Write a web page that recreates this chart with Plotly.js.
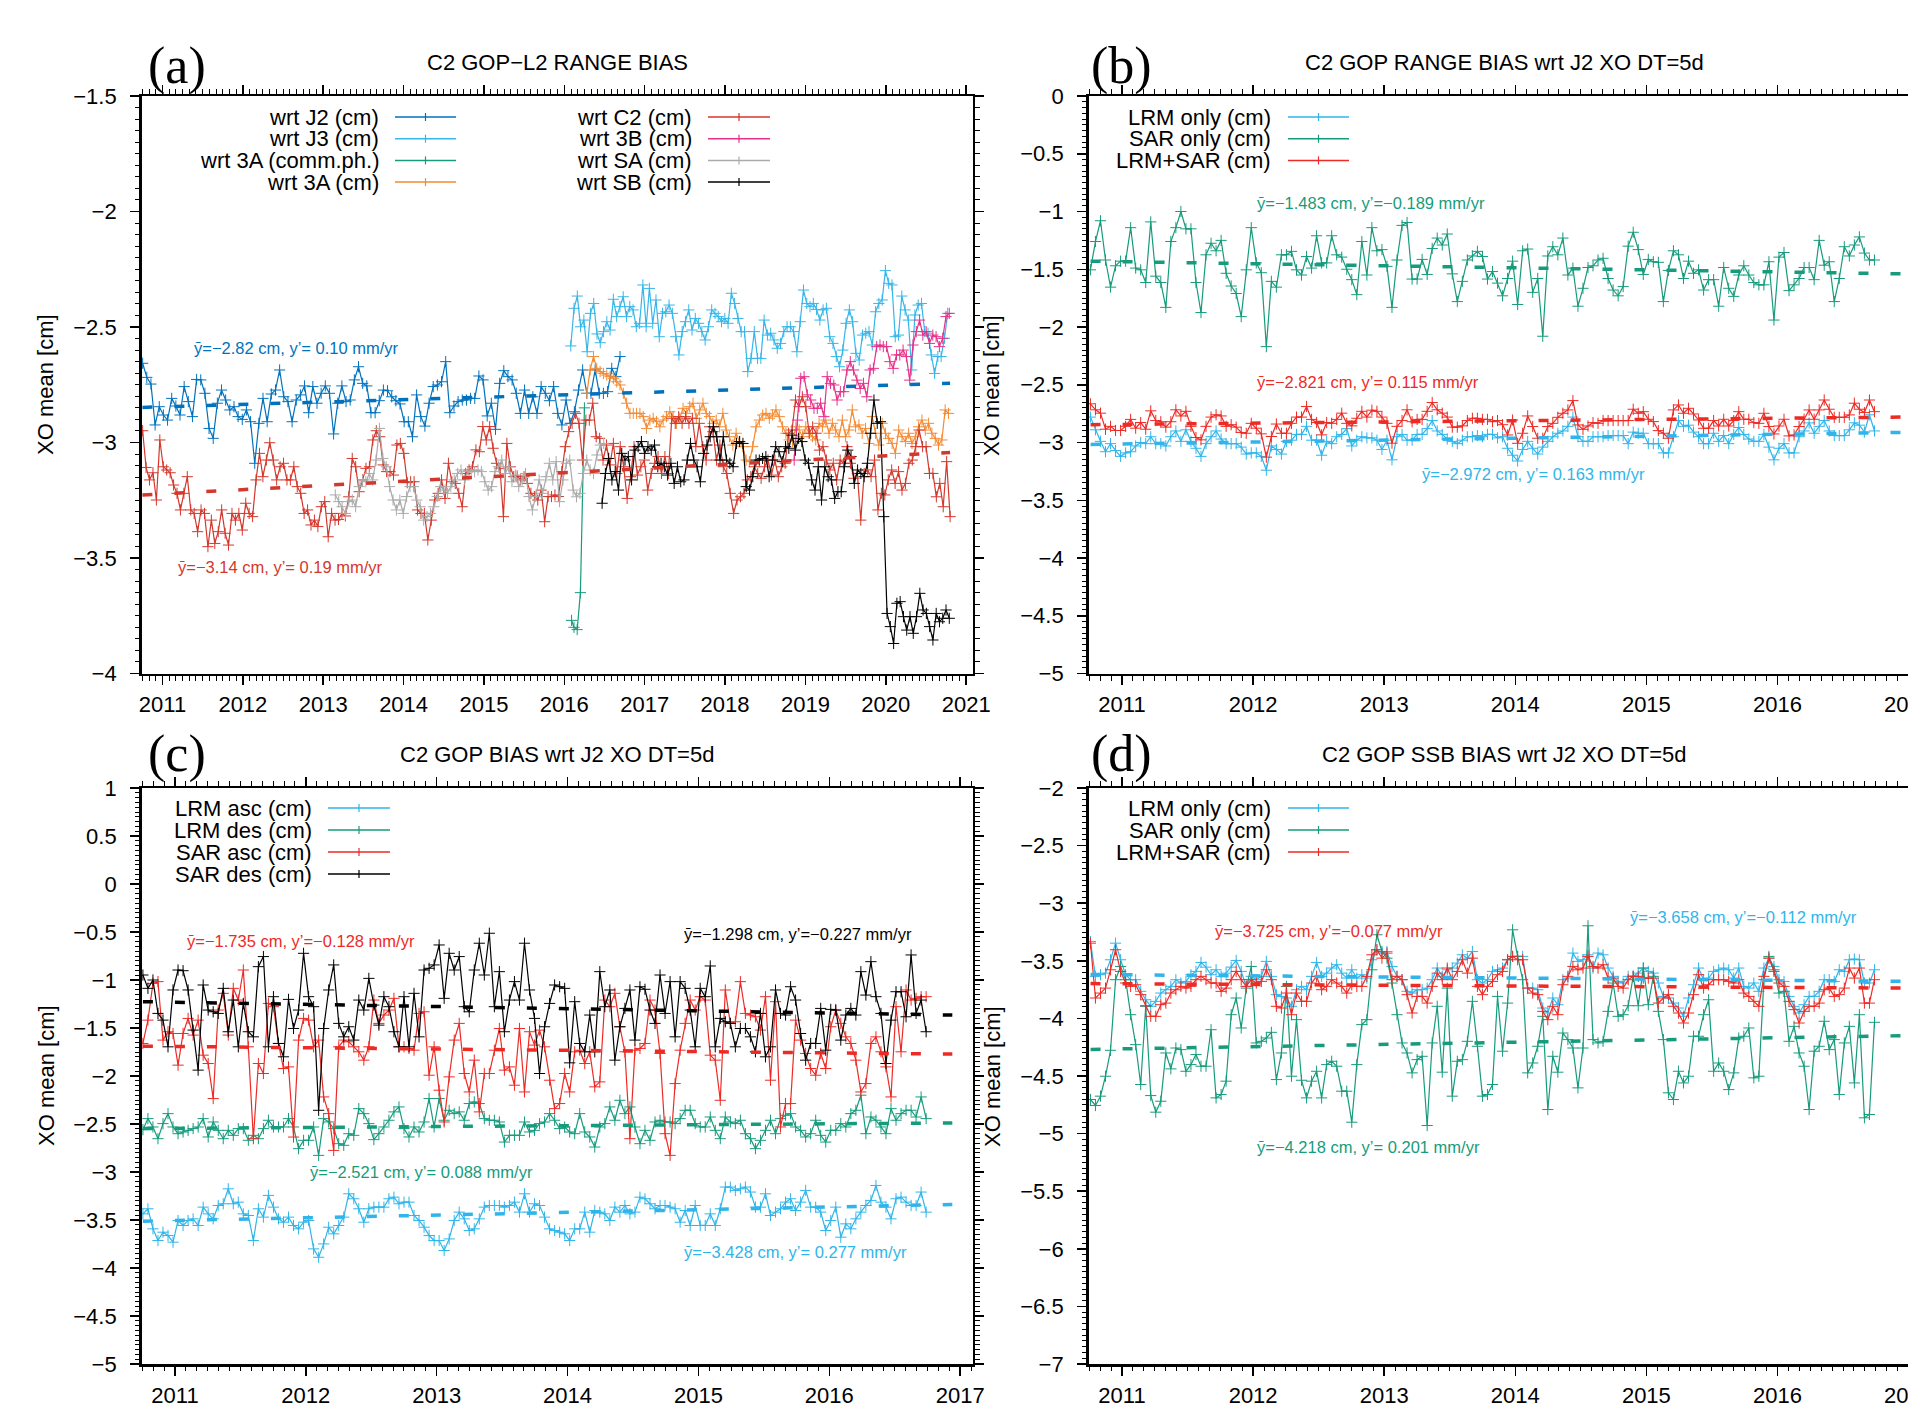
<!DOCTYPE html>
<html><head><meta charset="utf-8">
<script src="https://cdn.plot.ly/plotly-3.0.1.min.js"></script>
<style>html,body{margin:0;padding:0;overflow:hidden;background:#fff;}#plot{width:1940px;height:1412px;}</style>
</head><body><div id="plot"></div>
<script>
// ---------------- DATA ----------------
// Panel (a): C2 GOP-L2 range bias, decimal-year spans and values (cm)
const aJ2Span = [2010.753, 2016.693];
const aJ2 = [-2.657,-2.718,-2.747,-2.924,-2.845,-2.881,-2.903,-2.809,-2.842,-2.881,
-2.758,-2.823,-2.888,-2.727,-2.729,-2.787,-2.939,-2.982,-2.830,-2.773,
-2.816,-2.859,-2.845,-2.888,-2.900,-2.859,-2.910,-3.090,-2.917,-2.809,
-2.910,-2.790,-2.773,-2.686,-2.802,-2.823,-2.910,-2.816,-2.794,-2.755,
-2.871,-2.758,-2.830,-2.787,-2.755,-2.787,-2.963,-2.830,-2.755,-2.823,
-2.816,-2.729,-2.672,-2.744,-2.755,-2.871,-2.871,-2.819,-2.773,-2.776,
-2.802,-2.819,-2.833,-2.910,-2.910,-2.975,-2.794,-2.888,-2.929,-2.830,
-2.758,-2.751,-2.737,-2.650,-2.871,-2.842,-2.823,-2.816,-2.816,-2.809,
-2.809,-2.712,-2.729,-2.885,-2.830,-2.943,-2.744,-2.689,-2.715,-2.729,
-2.787,-2.874,-2.773,-2.874,-2.802,-2.874,-2.758,-2.787,-2.819,-2.758,
-2.874,-2.924,-2.816,-2.917,-2.867,-2.773,-2.686,-2.787,-2.787,-2.686,
-2.787,-2.787,-2.780,-2.679,-2.715,-2.628];
const aJ3Span = [2016.08, 2020.77];
const aJ3 = [-2.582,-2.419,-2.366,-2.499,-2.470,-2.607,-2.441,-2.398,-2.530,-2.568,
-2.520,-2.477,-2.513,-2.380,-2.455,-2.412,-2.369,-2.455,-2.412,-2.426,
-2.499,-2.484,-2.318,-2.499,-2.333,-2.484,-2.383,-2.542,-2.441,-2.434,
-2.405,-2.441,-2.542,-2.621,-2.520,-2.477,-2.426,-2.513,-2.463,-2.484,
-2.520,-2.556,-2.499,-2.426,-2.441,-2.455,-2.477,-2.463,-2.484,-2.354,
-2.398,-2.463,-2.520,-2.520,-2.693,-2.636,-2.520,-2.636,-2.636,-2.470,
-2.535,-2.527,-2.556,-2.592,-2.571,-2.520,-2.499,-2.499,-2.520,-2.607,
-2.477,-2.340,-2.398,-2.412,-2.398,-2.424,-2.470,-2.426,-2.419,-2.542,
-2.571,-2.628,-2.672,-2.600,-2.484,-2.426,-2.477,-2.614,-2.643,-2.535,
-2.527,-2.520,-2.578,-2.434,-2.398,-2.383,-2.256,-2.311,-2.318,-2.542,
-2.535,-2.366,-2.426,-2.470,-2.686,-2.448,-2.405,-2.398,-2.520,-2.527,
-2.621,-2.701,-2.628,-2.628,-2.549,-2.441];
const a3ACommTime = [2016.09, 2016.12, 2016.16, 2016.20, 2016.25];
const a3AComm = [-3.77, -3.80, -3.81, -3.65, -2.85];
const a3ASpan = [2016.28, 2020.78];
const a3A = [-2.787,-2.686,-2.628,-2.679,-2.693,-2.701,-2.708,-2.715,-2.722,-2.737,
-2.751,-2.787,-2.830,-2.874,-2.874,-2.874,-2.874,-2.888,-2.939,-2.903,
-2.895,-2.910,-2.932,-2.903,-2.888,-2.867,-2.888,-2.917,-2.895,-2.852,
-2.874,-2.845,-2.830,-2.895,-2.859,-2.830,-2.874,-2.888,-2.917,-2.903,
-2.932,-2.874,-2.946,-2.975,-3.011,-2.960,-2.996,-3.018,-3.076,-3.083,
-3.018,-2.932,-2.903,-2.881,-2.874,-2.895,-2.881,-2.859,-2.888,-2.932,
-2.960,-2.989,-2.996,-2.932,-2.946,-2.975,-2.932,-2.960,-2.975,-2.989,
-2.917,-2.932,-2.903,-2.960,-2.917,-2.946,-2.975,-2.903,-2.975,-2.946,
-2.859,-2.932,-2.924,-2.960,-2.939,-3.004,-2.888,-2.960,-3.011,-2.917,
-2.960,-2.982,-3.004,-3.047,-2.946,-2.975,-2.996,-2.960,-3.004,-2.975,
-2.932,-2.903,-2.946,-2.917,-2.960,-2.982,-3.011,-2.989,-2.859,-2.874];
const aC2Span = [2010.753, 2020.80];
const aC2 = [-2.949,-3.108,-3.162,-3.131,-3.249,-2.989,-3.105,-3.119,-3.131,-3.184,
-3.220,-3.292,-3.220,-3.148,-3.292,-3.307,-3.386,-3.292,-3.307,-3.451,
-3.336,-3.437,-3.386,-3.292,-3.393,-3.444,-3.307,-3.336,-3.307,-3.379,
-3.263,-3.307,-3.321,-3.162,-3.047,-3.148,-3.076,-3.001,-3.076,-3.162,
-3.105,-3.090,-3.162,-3.162,-3.105,-3.191,-3.220,-3.307,-3.292,-3.357,
-3.336,-3.364,-3.278,-3.256,-3.408,-3.307,-3.336,-3.333,-3.307,-3.318,
-3.235,-3.069,-3.105,-3.213,-3.162,-3.112,-3.105,-2.989,-2.949,-2.975,
-3.097,-3.126,-3.126,-3.141,-3.011,-3.004,-3.047,-3.174,-3.170,-3.170,
-3.292,-3.307,-3.307,-3.422,-3.336,-3.249,-3.220,-3.162,-3.242,-3.090,
-3.170,-3.177,-3.220,-3.278,-3.134,-3.119,-3.105,-3.032,-3.040,-2.931,
-2.989,-2.931,-3.025,-3.090,-3.112,-3.321,-3.004,-3.105,-3.148,-3.145,
-3.162,-3.148,-3.177,-3.220,-3.234,-3.249,-3.206,-3.343,-3.234,-3.234,
-3.227,-3.234,
-3.126,-3.018,-2.953,-2.917,-2.874,-2.917,-3.076,-2.903,-2.903,-2.830,
-2.975,-2.982,-3.076,-3.011,-3.097,-3.004,-3.134,-3.018,-3.105,-3.242,
-3.148,-3.018,-3.141,-3.105,-3.076,-3.206,-3.134,-3.090,-3.061,-3.134,
-3.061,-3.134,-2.895,-2.917,-2.888,-2.917,-2.888,-2.917,-2.895,-3.018,
-2.917,-3.018,-3.076,-2.932,-2.953,-3.076,-3.011,-3.105,-3.134,-3.220,
-3.307,-3.249,-3.235,-3.220,-3.162,-3.148,-3.105,-3.134,-3.155,-3.105,
-3.076,-3.141,-3.076,-3.148,-3.105,-3.090,-2.960,-2.946,-2.816,-2.845,
-2.802,-2.845,-2.960,-2.932,-2.960,-3.033,-3.018,-3.076,-3.119,-3.090,
-3.162,-3.076,-3.090,-3.018,-3.090,-3.155,-3.134,-3.336,-3.134,-3.119,
-3.148,-3.076,-3.292,-3.220,-3.227,-3.162,-3.119,-3.177,-3.126,-3.206,
-3.177,-3.090,-3.076,-3.018,-2.946,-3.018,-3.018,-3.134,-3.134,-3.235,
-3.177,-3.278,-3.083,-3.321];
const a3BSpan = [2018.86, 2020.79];
const a3B = [-3.076,-2.903,-2.722,-2.715,-2.794,-2.816,-2.852,-2.852,-2.830,-2.888,
-2.715,-2.744,-2.751,-2.816,-2.780,-2.780,-2.686,-2.650,-2.686,-2.730,
-2.766,-2.744,-2.802,-2.686,-2.679,-2.585,-2.578,-2.585,-2.585,-2.650,
-2.679,-2.621,-2.621,-2.600,-2.628,-2.730,-2.578,-2.520,-2.470,-2.535,
-2.520,-2.571,-2.535,-2.542,-2.585,-2.549,-2.455,-2.441];
const aSASpan = [2013.15, 2016.49];
const aSA = [-3.227,-3.256,-3.278,-3.307,-3.256,-3.249,-3.278,-3.191,-3.162,-3.170,
-3.134,-3.162,-3.076,-2.939,-3.069,-3.105,-3.191,-3.249,-3.292,-3.249,
-3.307,-3.234,-3.191,-3.191,-3.249,-3.278,-3.336,-3.321,-3.307,-3.278,
-3.234,-3.191,-3.206,-3.220,-3.191,-3.162,-3.134,-3.119,-3.162,-3.126,
-3.119,-3.126,-3.119,-3.126,-3.170,-3.206,-3.191,-3.126,-3.105,-3.076,
-3.134,-3.105,-3.170,-3.141,-3.191,-3.162,-3.134,-3.234,-3.292,-3.234,
-3.162,-3.220,-3.148,-3.090,-3.162,-3.083,-3.256,
-3.162,-3.090,-3.076,-3.206,-3.235,-3.220,-3.134,-3.076,-3.119,-3.134,-3.054,-3.011,-3.004];
const aSBSpan = [2016.47, 2020.79];
const aSB = [-3.263,-3.134,-3.069,-3.162,-3.126,-3.206,-3.047,-3.076,-3.061,-3.162,
-3.033,-3.018,-2.996,-3.047,-3.018,-3.033,-3.011,-3.105,-3.090,-3.105,
-3.141,-3.090,-3.177,-3.105,-3.170,-3.162,-3.076,-3.004,-3.076,-3.105,
-3.170,-3.047,-3.011,-2.975,-2.932,-2.975,-3.076,-2.975,-3.076,-3.090,
-3.105,-3.004,-2.996,-3.004,-3.191,-3.206,-3.148,-3.076,-3.076,-3.069,
-3.061,-3.148,-3.076,-3.018,-3.040,-3.083,-3.018,-3.025,-2.968,-3.033,
-2.982,-2.996,-3.076,-3.090,-3.162,-3.206,-3.105,-3.249,-3.105,-3.148,
-3.162,-3.242,-3.213,-3.213,-3.105,-3.033,-3.061,-3.177,-3.119,-3.134,
-3.148,-3.090,-2.960,-2.816,-2.917,-2.910,
-3.321,-3.740,-3.797,-3.870,-3.696,-3.689,-3.754,-3.812,-3.754,-3.826,
-3.754,-3.653,-3.725,-3.740,-3.797,-3.855,-3.740,-3.776,-3.761,-3.725,-3.761];
const aFitSpan = [2010.75, 2020.8];
const aFitJ2 = [-2.848, -2.744];
const aFitC2 = [-3.227, -3.043];

// Panel (b): range bias wrt J2 XO
const bSpan = [2010.759, 2016.74];
const bLRM = [-2.78,-2.89,-2.99,-3.08,-3.01,-3.07,-3.12,-3.09,-3.08,-3.03,
-3.00,-3.01,-2.95,-3.01,-3.01,-3.03,-2.95,-2.90,-2.99,-2.89,
-2.99,-3.05,-3.12,-3.01,-2.95,-2.90,-2.97,-3.01,-3.01,-3.01,
-3.04,-3.10,-3.09,-3.09,-3.12,-3.24,-3.03,-3.06,-3.10,-2.99,
-2.98,-2.93,-2.93,-2.86,-2.98,-2.98,-3.11,-2.99,-3.01,-2.95,
-2.93,-2.88,-3.03,-2.98,-2.95,-2.96,-2.96,-2.98,-3.06,-2.98,
-3.15,-2.95,-2.93,-2.98,-2.98,-2.93,-2.93,-2.88,-2.81,-2.90,
-2.93,-2.97,-2.99,-3.01,-2.98,-2.95,-2.95,-2.94,-2.95,-2.93,
-2.93,-2.96,-2.95,
-3.05,-3.11,-3.16,-3.06,-2.99,-3.05,-3.10,-3.04,-2.99,-2.95,
-2.92,-2.90,-2.86,-2.78,-2.95,-2.99,-2.99,-2.95,-2.95,-2.95,
-2.94,-2.94,-2.94,-2.94,-3.01,-2.91,-2.92,-2.92,-3.01,-3.01,
-3.01,-3.09,-3.09,-2.95,-2.81,-2.86,-2.85,-2.91,-2.95,-3.01,
-3.01,-2.92,-2.99,-2.94,-3.01,-2.93,-2.87,-2.93,-2.97,-2.99,
-2.99,-2.93,-3.04,-3.15,-3.05,-3.01,-3.09,-3.09,-2.95,-2.90,
-2.83,-2.92,-2.86,-2.81,-2.90,-2.94,-2.94,-2.94,-2.89,-2.83,
-2.85,-2.91,-2.76,-2.90];
const bSAR = [-1.505,-1.26,-1.08,-1.42,-1.655,-1.47,-1.43,-1.43,-1.14,-1.49,
-1.505,-1.615,-1.09,-1.56,-1.615,-1.83,-1.26,-1.14,-1.0,-1.15,
-1.15,-1.615,-1.875,-1.375,-1.275,-1.34,-1.25,-1.535,-1.645,-1.71,
-1.91,-1.505,-1.14,-1.445,-1.53,-2.17,-1.605,-1.655,-1.375,-1.375,
-1.345,-1.505,-1.55,-1.39,-1.49,-1.21,-1.445,-1.445,-1.21,-1.375,
-1.395,-1.50,-1.59,-1.72,-1.26,-1.55,-1.14,-1.34,-1.33,-1.475,
-1.83,-1.42,-1.12,-1.095,-1.585,-1.585,-1.415,-1.545,-1.32,-1.23,
-1.29,-1.195,-1.54,-1.78,-1.605,-1.42,-1.385,-1.345,-1.39,-1.585,
-1.52,-1.62,-1.73,
-1.58,-1.43,-1.805,-1.34,-1.325,-1.70,-1.58,-2.08,-1.385,-1.305,
-1.375,-1.23,-1.55,-1.49,-1.82,-1.665,-1.485,-1.47,-1.42,-1.405,
-1.58,-1.68,-1.73,-1.65,-1.30,-1.18,-1.33,-1.545,-1.415,-1.435,
-1.44,-1.78,-1.51,-1.34,-1.375,-1.58,-1.43,-1.535,-1.505,-1.68,
-1.59,-1.59,-1.82,-1.485,-1.665,-1.735,-1.55,-1.47,-1.55,-1.615,
-1.635,-1.635,-1.435,-1.94,-1.395,-1.355,-1.685,-1.635,-1.58,-1.485,
-1.485,-1.59,-1.25,-1.465,-1.435,-1.78,-1.58,-1.305,-1.385,-1.29,
-1.22,-1.36,-1.42,-1.42];
const bMIX = [-2.665,-2.717,-2.746,-2.885,-2.86,-2.896,-2.896,-2.86,-2.80,-2.876,
-2.827,-2.885,-2.726,-2.81,-2.82,-2.867,-2.82,-2.717,-2.77,-2.73,
-2.86,-2.957,-2.977,-2.86,-2.78,-2.76,-2.77,-2.86,-2.846,-2.867,
-2.913,-2.92,-2.834,-2.876,-2.925,-3.127,-2.948,-2.84,-2.92,-2.92,
-2.834,-2.78,-2.78,-2.688,-2.80,-2.827,-2.934,-2.827,-2.834,-2.80,
-2.746,-2.834,-2.856,-2.79,-2.73,-2.78,-2.72,-2.73,-2.78,-2.834,
-3.006,-2.86,-2.81,-2.717,-2.82,-2.80,-2.80,-2.73,-2.654,-2.717,
-2.746,-2.78,-2.867,-2.867,-2.856,-2.81,-2.79,-2.79,-2.80,-2.80,
-2.82,-2.81,-2.846,
-2.935,-2.805,-3.007,-2.92,-2.77,-2.862,-2.963,-2.963,-2.862,-2.834,
-2.782,-2.747,-2.718,-2.637,-2.848,-2.886,-2.857,-2.828,-2.834,-2.81,
-2.81,-2.81,-2.81,-2.81,-2.81,-2.712,-2.747,-2.733,-2.799,-2.819,
-2.897,-2.92,-2.963,-2.718,-2.675,-2.747,-2.704,-2.753,-2.805,-2.877,
-2.877,-2.81,-2.857,-2.799,-2.857,-2.81,-2.733,-2.799,-2.799,-2.828,
-2.834,-2.747,-2.862,-2.926,-2.857,-2.799,-2.943,-2.935,-2.862,-2.799,
-2.718,-2.799,-2.718,-2.632,-2.712,-2.782,-2.782,-2.782,-2.761,-2.66,
-2.712,-2.741,-2.632,-2.733];
const bFitSpan = [2010.76, 2016.95];
const bFitLRM = [-3.017, -2.913];
const bFitSAR = [-1.43, -1.54];
const bFitMIX = [-2.846, -2.78];

// Panel (c): bias wrt J2 XO, asc/des
const cSpan = [2010.755, 2016.74];
const cLRMasc = [-3.436,-3.383,-3.592,-3.714,-3.627,-3.662,-3.731,-3.505,-3.557,-3.505,
-3.488,-3.557,-3.366,-3.436,-3.488,-3.349,-3.331,-3.175,-3.331,-3.314,
-3.436,-3.453,-3.714,-3.383,-3.470,-3.244,-3.366,-3.488,-3.523,-3.470,
-3.557,-3.592,-3.523,-3.505,-3.801,-3.888,-3.749,-3.575,-3.644,-3.557,
-3.470,-3.227,-3.279,-3.383,-3.523,-3.383,-3.366,-3.366,-3.366,-3.279,
-3.262,-3.331,-3.314,-3.314,-3.453,-3.505,-3.575,-3.662,-3.714,-3.714,
-3.818,-3.697,-3.505,-3.418,-3.488,-3.610,-3.592,-3.488,-3.366,-3.349,
-3.349,-3.349,-3.366,-3.349,-3.314,-3.418,-3.227,-3.418,-3.331,-3.349,
-3.470,-3.592,-3.610,-3.627,
-3.644,-3.714,-3.592,-3.592,-3.418,-3.627,-3.401,-3.418,-3.436,-3.505,
-3.366,-3.418,-3.349,-3.436,-3.418,-3.262,-3.279,-3.331,-3.383,-3.349,
-3.349,-3.366,-3.383,-3.523,-3.401,-3.557,-3.349,-3.557,-3.557,-3.436,
-3.557,-3.383,-3.157,-3.157,-3.192,-3.175,-3.157,-3.209,-3.366,-3.366,
-3.227,-3.453,-3.418,-3.383,-3.314,-3.279,-3.401,-3.314,-3.192,-3.366,
-3.366,-3.418,-3.610,-3.505,-3.366,-3.679,-3.540,-3.592,-3.488,-3.418,
-3.349,-3.296,-3.140,-3.314,-3.366,-3.488,-3.279,-3.262,-3.314,-3.349,
-3.349,-3.209,-3.418];
const cLRMdes = [-2.559,-2.444,-2.531,-2.653,-2.496,-2.392,-2.531,-2.601,-2.583,-2.566,
-2.548,-2.531,-2.444,-2.635,-2.479,-2.566,-2.653,-2.566,-2.618,-2.548,
-2.548,-2.670,-2.618,-2.653,-2.548,-2.461,-2.531,-2.531,-2.531,-2.444,
-2.531,-2.757,-2.670,-2.670,-2.531,-2.827,-2.444,-2.479,-2.548,-2.705,
-2.722,-2.601,-2.618,-2.340,-2.392,-2.496,-2.663,-2.601,-2.531,-2.461,
-2.374,-2.322,-2.548,-2.635,-2.531,-2.583,-2.479,-2.235,-2.531,-2.235,
-2.461,-2.357,-2.392,-2.374,-2.461,-2.287,-2.270,-2.287,-2.444,-2.461,
-2.461,-2.479,-2.688,-2.618,-2.618,-2.618,-2.479,-2.583,-2.566,-2.496,
-2.479,-2.392,-2.461,-2.548,
-2.531,-2.583,-2.601,-2.392,-2.583,-2.635,-2.740,-2.531,-2.496,-2.322,
-2.461,-2.253,-2.392,-2.322,-2.531,-2.705,-2.566,-2.670,-2.479,-2.461,
-2.479,-2.479,-2.496,-2.444,-2.357,-2.357,-2.496,-2.531,-2.531,-2.427,
-2.566,-2.653,-2.427,-2.479,-2.496,-2.461,-2.601,-2.653,-2.757,-2.670,
-2.566,-2.461,-2.601,-2.444,-2.409,-2.392,-2.531,-2.566,-2.635,-2.601,
-2.461,-2.618,-2.688,-2.566,-2.566,-2.496,-2.531,-2.392,-2.357,-2.200,
-2.601,-2.427,-2.461,-2.531,-2.601,-2.340,-2.461,-2.392,-2.357,-2.357,
-2.427,-2.218,-2.444];
const cSARasc = [-1.661,-1.418,-1.035,-1.017,-1.626,-1.539,-1.557,-1.887,-1.557,-1.400,
-1.574,-1.418,-1.783,-1.870,-2.235,-1.313,-1.139,-1.574,-1.087,-1.209,
-0.896,-1.696,-2.653,-1.870,-1.974,-1.244,-1.278,-1.661,-1.922,-1.905,
-2.636,-1.626,-1.400,-1.418,-1.696,-1.626,-2.218,-2.392,-2.775,-1.696,
-1.626,-1.644,-1.696,-1.748,-1.835,-1.696,-1.209,-1.452,-1.365,-1.313,
-1.191,-1.696,-1.696,-1.713,-1.731,-1.348,-1.331,-1.992,-1.696,-2.148,
-2.479,-2.009,-1.626,-1.452,-1.974,-2.166,-1.835,-2.374,-1.974,-1.974,
-1.731,-1.505,-1.939,-1.905,-2.096,-1.505,-2.166,-1.539,-1.678,-1.522,
-1.696,-2.044,-2.340,-2.287,
-1.974,-2.166,-1.748,-1.731,-1.870,-1.748,-2.113,-2.061,-1.209,-1.278,
-1.139,-1.487,-1.748,-2.653,-1.731,-1.713,-1.661,-1.209,-1.313,-1.765,
-2.601,-2.827,-2.079,-1.731,-1.452,-1.209,-1.313,-1.174,-1.209,-1.783,
-1.835,-2.253,-1.104,-1.452,-1.435,-1.017,-1.348,-1.365,-1.383,-1.522,
-1.174,-2.044,-1.226,-2.531,-2.287,-2.287,-1.418,-1.626,-1.765,-1.922,
-1.992,-1.765,-1.922,-1.487,-1.313,-1.452,-1.592,-1.661,-1.835,-2.166,
-2.079,-1.661,-1.592,-1.748,-1.905,-2.218,-1.278,-1.748,-1.104,-1.209,
-1.191,-1.174,-1.174];
const cSARdes = [-0.948,-1.087,-1.0,-1.348,-1.418,-1.696,-1.104,-0.896,-0.903,-1.104,
-1.522,-1.939,-1.052,-1.313,-1.331,-1.348,-1.087,-1.539,-1.209,-1.696,
-1.244,-1.539,-1.592,-0.861,-0.756,-1.696,-1.174,-1.661,-1.800,-1.202,
-1.505,-1.313,-0.722,-1.174,-1.278,-2.357,-1.505,-1.104,-0.843,-1.452,
-1.592,-1.487,-1.626,-1.209,-1.313,-0.983,-1.261,-1.470,-1.174,-1.278,
-1.539,-1.696,-1.174,-1.696,-1.139,-1.592,-0.896,-0.878,-0.843,-0.635,
-1.191,-0.722,-0.896,-0.756,-1.278,-1.331,-0.896,-0.617,-0.948,-0.513,
-1.278,-0.913,-1.539,-1.209,-1.017,-1.209,-0.617,-1.104,-1.400,-1.974,
-1.487,-1.244,-1.052,-1.070,
-1.087,-1.863,-1.226,-1.661,-1.748,-1.365,-1.748,-0.913,-1.278,-1.104,
-1.835,-1.487,-1.296,-1.104,-1.626,-1.070,-1.097,-1.313,-1.452,-0.948,
-1.348,-1.017,-1.592,-1.017,-1.087,-1.313,-1.696,-1.087,-1.174,-0.854,
-1.696,-1.400,-1.435,-1.452,-1.696,-1.505,-1.505,-1.592,-1.748,-1.348,
-1.800,-1.696,-1.104,-1.348,-1.365,-1.070,-1.209,-1.557,-1.835,-1.661,
-1.661,-1.296,-1.731,-1.306,-1.313,-1.626,-1.365,-1.296,-1.365,-0.913,
-1.157,-0.809,-1.174,-1.348,-1.870,-1.418,-1.122,-1.122,-1.383,-0.739,
-1.348,-1.209,-1.539];
const cFitSpan = [2010.755, 2016.94];
const cFitLRMasc = [-3.512, -3.338];
const cFitLRMdes = [-2.548, -2.489];
const cFitSARasc = [-1.689, -1.772];
const cFitSARdes = [-1.226, -1.365];

// Panel (d): SSB bias wrt J2 XO
const dSpan = [2010.759, 2016.74];
const dLRM = [-3.332,-3.635,-3.621,-3.607,-3.491,-3.347,-3.491,-3.621,-3.664,-3.664,
-3.765,-3.838,-3.895,-3.852,-3.780,-3.751,-3.722,-3.664,-3.693,-3.679,
-3.621,-3.592,-3.514,-3.555,-3.621,-3.578,-3.635,-3.607,-3.555,-3.497,
-3.592,-3.722,-3.635,-3.664,-3.635,-3.505,-3.635,-3.794,-3.809,-3.823,
-3.895,-3.751,-3.722,-3.751,-3.635,-3.514,-3.635,-3.607,-3.563,-3.534,
-3.607,-3.650,-3.578,-3.650,-3.621,-3.650,-3.491,-3.404,-3.433,-3.419,
-3.549,-3.635,-3.664,-3.765,-3.780,-3.751,-3.751,-3.737,-3.664,-3.563,
-3.635,-3.578,-3.563,-3.520,-3.448,-3.477,-3.419,-3.664,-3.693,-3.664,
-3.592,-3.578,
-3.563,-3.491,-3.462,-3.462,-3.462,-3.737,-3.737,-3.751,-3.910,-3.953,
-3.823,-3.881,-3.664,-3.650,-3.433,-3.505,-3.491,-3.448,-3.563,-3.433,
-3.448,-3.563,-3.635,-3.679,-3.693,-3.635,-3.635,-3.607,-3.563,-3.592,
-3.607,-3.693,-3.809,-3.823,-3.867,-3.910,-3.982,-3.823,-3.708,-3.563,
-3.664,-3.650,-3.592,-3.578,-3.563,-3.578,-3.650,-3.563,-3.722,-3.737,
-3.693,-3.765,-3.563,-3.477,-3.549,-3.664,-3.679,-3.809,-3.895,-3.953,
-3.881,-3.809,-3.809,-3.765,-3.664,-3.664,-3.679,-3.578,-3.592,-3.491,
-3.485,-3.491,-3.693,-3.693,-3.578];
const dSAR = [-4.704,-4.756,-4.675,-4.502,-4.277,-3.664,-3.549,-3.664,-3.968,-4.228,
-4.574,-3.895,-4.670,-4.814,-4.719,-4.300,-4.438,-4.257,-4.271,-4.459,
-4.401,-4.314,-4.415,-4.415,-4.098,-4.690,-4.661,-4.545,-3.968,-3.823,
-4.083,-3.737,-3.549,-4.213,-4.199,-4.170,-4.121,-4.531,-4.300,-3.722,
-4.502,-4.011,-4.537,-4.690,-4.545,-4.459,-4.690,-4.401,-4.372,-4.415,
-4.632,-4.632,-4.901,-4.401,-4.054,-4.011,-3.578,-3.274,-3.419,-3.477,
-3.693,-3.968,-4.213,-4.300,-4.473,-4.358,-4.329,-4.930,-4.213,-3.895,
-4.467,-3.737,-4.675,-4.372,-4.358,-4.199,-3.852,-4.242,-4.675,-4.661,
-4.574,-3.809,
-4.285,-3.867,-3.231,-3.462,-3.664,-4.473,-4.387,-4.242,-3.982,-4.791,
-4.329,-4.467,-4.127,-4.184,-4.257,-4.603,-4.257,-3.196,-4.184,-4.213,
-4.199,-3.939,-3.693,-3.982,-3.968,-3.890,-3.635,-3.890,-3.563,-3.881,
-3.635,-3.939,-4.184,-4.646,-4.704,-4.459,-4.560,-4.502,-4.155,-4.155,
-3.968,-3.838,-4.459,-4.387,-4.459,-4.618,-4.473,-4.170,-4.155,-4.083,
-4.516,-4.502,-3.664,-3.462,-3.578,-3.780,-3.765,-4.199,-4.069,-4.300,
-4.415,-4.791,-4.285,-4.242,-4.025,-4.271,-4.184,-4.661,-4.213,-4.069,
-4.560,-3.968,-4.863,-4.834,-4.034];
const dMIX = [-3.347,-3.823,-3.780,-3.737,-3.578,-3.404,-3.592,-3.693,-3.722,-3.708,
-3.794,-3.890,-3.982,-3.982,-3.881,-3.867,-3.780,-3.751,-3.722,-3.737,
-3.722,-3.664,-3.635,-3.664,-3.693,-3.693,-3.765,-3.737,-3.664,-3.592,
-3.664,-3.722,-3.664,-3.693,-3.679,-3.578,-3.664,-3.895,-3.910,-3.780,
-3.968,-3.780,-3.852,-3.852,-3.693,-3.635,-3.751,-3.722,-3.664,-3.693,
-3.722,-3.780,-3.708,-3.722,-3.722,-3.635,-3.448,-3.404,-3.477,-3.433,
-3.664,-3.635,-3.664,-3.794,-3.953,-3.809,-3.809,-3.867,-3.722,-3.607,
-3.664,-3.563,-3.664,-3.592,-3.491,-3.607,-3.477,-3.722,-3.794,-3.722,
-3.679,-3.621,
-3.592,-3.491,-3.462,-3.491,-3.491,-3.737,-3.780,-3.794,-3.939,-4.011,
-3.895,-3.968,-3.708,-3.635,-3.549,-3.578,-3.563,-3.462,-3.549,-3.563,
-3.534,-3.650,-3.650,-3.722,-3.737,-3.664,-3.635,-3.635,-3.650,-3.650,
-3.650,-3.867,-3.823,-3.794,-3.895,-3.953,-4.040,-3.953,-3.794,-3.621,
-3.737,-3.708,-3.664,-3.664,-3.664,-3.679,-3.693,-3.664,-3.780,-3.809,
-3.852,-3.895,-3.635,-3.477,-3.592,-3.693,-3.722,-3.852,-3.924,-4.040,
-3.939,-3.895,-3.895,-3.867,-3.751,-3.737,-3.809,-3.794,-3.737,-3.563,
-3.650,-3.563,-3.867,-3.867,-3.664];
const dFitSpan = [2010.76, 2016.95];
const dFitLRM = [-3.619, -3.678];
const dFitSAR = [-4.269, -4.150];
const dFitMIX = [-3.698, -3.737];

// ---------------- STYLE ----------------
const W = 1940, H = 1412;
const SANS = 'Liberation Sans, Arial, Helvetica, sans-serif';
const SERIF = 'Liberation Serif, Times New Roman, serif';
const COL = {j2:'#0072bd', j3:'#36b6e9', green:'#169b7c', orange:'#f48a32', c2:'#d4372c',
             pink:'#e6308a', gray:'#aaaaaa', black:'#000000', red:'#ee2a25', light:'#2fb5ea'};
const px = v => v / W, py = v => 1 - v / H;

function times(span, n) { return Array.from({length:n}, (_, i) => span[0] + i * (span[1] - span[0]) / (n - 1)); }
function series(ax, span, vals, color, xs) {
  return {type:'scatter', mode:'lines+markers', x: xs || times(span, vals.length), y: vals,
    xaxis:'x'+ax, yaxis:'y'+ax, line:{color, width:1.2}, hoverinfo:'skip',
    marker:{symbol:'cross-thin-open', size:8, color, line:{width:1, color}}};
}
function fit(ax, span, ys, color) {
  return {type:'scatter', mode:'lines', x: span, y: ys, xaxis:'x'+ax, yaxis:'y'+ax,
    hoverinfo:'skip', line:{color, width:3.5, dash:'10px,22px'}};
}

const traces = [
  series('', aJ2Span, aJ2, COL.j2),
  series('', aJ3Span, aJ3, COL.j3),
  series('', null, a3AComm, COL.green, a3ACommTime),
  series('', a3ASpan, a3A, COL.orange),
  series('', aC2Span, aC2, COL.c2),
  series('', a3BSpan, a3B, COL.pink),
  series('', aSASpan, aSA, COL.gray),
  series('', aSBSpan, aSB, COL.black),
  fit('', aFitSpan, aFitJ2, COL.j2),
  fit('', aFitSpan, aFitC2, COL.c2),

  series('2', bSpan, bLRM, COL.light),
  series('2', bSpan, bSAR, COL.green),
  series('2', bSpan, bMIX, COL.red),
  fit('2', bFitSpan, bFitSAR, COL.green),
  fit('2', bFitSpan, bFitMIX, COL.red),
  fit('2', bFitSpan, bFitLRM, COL.light),

  series('3', cSpan, cLRMasc, COL.light),
  series('3', cSpan, cLRMdes, COL.green),
  series('3', cSpan, cSARasc, COL.red),
  series('3', cSpan, cSARdes, COL.black),
  fit('3', cFitSpan, cFitLRMasc, COL.light),
  fit('3', cFitSpan, cFitLRMdes, COL.green),
  fit('3', cFitSpan, cFitSARasc, COL.red),
  fit('3', cFitSpan, cFitSARdes, COL.black),

  series('4', dSpan, dLRM, COL.light),
  series('4', dSpan, dSAR, COL.green),
  series('4', dSpan, dMIX, COL.red),
  fit('4', dFitSpan, dFitSAR, COL.green),
  fit('4', dFitSpan, dFitLRM, COL.light),
  fit('4', dFitSpan, dFitMIX, COL.red)
];

// ---------------- AXES ----------------
const dxL = [px(141.6), px(972.6)], dxR = [px(1088.6), px(1921)];
const dyT = [py(673.5), py(96)], dyB = [py(1364), py(788)];
function xAx(domain, range, anchor) {
  return {domain, range, anchor, tick0:2011, dtick:1, ticks:'outside', ticklen:9, tickwidth:1.5, tickcolor:'#000',
    showline:true, linewidth:2.5, linecolor:'#000', mirror:'allticks', showgrid:false, zeroline:false,
    ticklabelstandoff:1, tickfont:{family:SANS, size:22, color:'#000'},
    minor:{tick0:2011, dtick:1/12, ticks:'outside', ticklen:4.5, tickwidth:1, tickcolor:'#000', showgrid:false}};
}
function yAx(domain, range, anchor) {
  return {domain, range, anchor, tick0:0, dtick:0.5, ticks:'outside', ticklen:9, tickwidth:1.5, tickcolor:'#000',
    showline:true, linewidth:2.5, linecolor:'#000', mirror:'allticks', showgrid:false, zeroline:false,
    ticklabelstandoff:9, tickfont:{family:SANS, size:22, color:'#000'},
    minor:{tick0:0, dtick:0.05, ticks:'outside', ticklen:4.5, tickwidth:1, tickcolor:'#000', showgrid:false}};
}

// ---------------- TEXT ----------------
const annotations = [];
const shapes = [];
function txt(x, y, text, o) {
  annotations.push(Object.assign({xref:'paper', yref:'paper', x:px(x), y:py(y), text, showarrow:false,
    xanchor:'left', yanchor:'middle', font:{family:SANS, size:22, color:'#000'}}, o || {}));
}
[['(a)',146,66],['(b)',1089,66],['(c)',146,754],['(d)',1089,754]].forEach(p =>
  txt(p[1], p[2], p[0], {font:{family:SERIF, size:52, color:'#000'}}));
[['C2 GOP−L2 RANGE BIAS',557,63],['C2 GOP RANGE BIAS wrt J2 XO DT=5d',1504,63],
 ['C2 GOP BIAS wrt J2 XO DT=5d',557,754],['C2 GOP SSB BIAS wrt J2 XO DT=5d',1504,754]].forEach(p =>
  txt(p[1], p[2], p[0], {xanchor:'center'}));
[[46,385],[992,385],[46,1076],[992,1076]].forEach(p =>
  txt(p[0], p[1], 'XO mean [cm]', {xanchor:'center', textangle:-90}));

const stat = (x, y, t, c) => txt(x, y, t, {font:{family:SANS, size:16.5, color:c}});
stat(192, 348, 'ȳ=−2.82 cm, y’= 0.10 mm/yr', COL.j2);
stat(176, 567, 'ȳ=−3.14 cm, y’= 0.19 mm/yr', COL.c2);
stat(1255, 203, 'ȳ=−1.483 cm, y’=−0.189 mm/yr', COL.green);
stat(1255, 382, 'ȳ=−2.821 cm, y’= 0.115 mm/yr', COL.red);
stat(1420, 474, 'ȳ=−2.972 cm, y’= 0.163 mm/yr', COL.light);
stat(185, 941, 'ȳ=−1.735 cm, y’=−0.128 mm/yr', COL.red);
stat(682, 934, 'ȳ=−1.298 cm, y’=−0.227 mm/yr', COL.black);
stat(308, 1172, 'ȳ=−2.521 cm, y’= 0.088 mm/yr', COL.green);
stat(682, 1252, 'ȳ=−3.428 cm, y’= 0.277 mm/yr', COL.light);
stat(1213, 931, 'ȳ=−3.725 cm, y’=−0.077 mm/yr', COL.red);
stat(1628, 917, 'ȳ=−3.658 cm, y’=−0.112 mm/yr', COL.light);
stat(1255, 1147, 'ȳ=−4.218 cm, y’= 0.201 mm/yr', COL.green);

// legends (text right-aligned, sample line with a "+" on the right)
function legend(xText, x0, x1, y, label, color) {
  txt(xText, y, label, {xanchor:'right'});
  shapes.push({type:'line', xref:'paper', yref:'paper', x0:px(x0), x1:px(x1), y0:py(y), y1:py(y), line:{color, width:1.5}});
  const xm = (x0 + x1) / 2;
  shapes.push({type:'line', xref:'paper', yref:'paper', x0:px(xm), x1:px(xm), y0:py(y-4), y1:py(y+4), line:{color, width:1.2}});
}
const rowsT = [117, 138.7, 160.4, 182.1], rowsB = [808, 830, 852, 874];
legend(381, 395, 456, rowsT[0], 'wrt J2 (cm)', COL.j2);
legend(381, 395, 456, rowsT[1], 'wrt J3 (cm)', COL.j3);
legend(381, 395, 456, rowsT[2], 'wrt 3A (comm.ph.)', COL.green);
legend(381, 395, 456, rowsT[3], 'wrt 3A (cm)', COL.orange);
legend(694, 708, 770, rowsT[0], 'wrt C2 (cm)', COL.c2);
legend(694, 708, 770, rowsT[1], 'wrt 3B (cm)', COL.pink);
legend(694, 708, 770, rowsT[2], 'wrt SA (cm)', COL.gray);
legend(694, 708, 770, rowsT[3], 'wrt SB (cm)', COL.black);
legend(1273, 1288, 1349, rowsT[0], 'LRM only (cm)', COL.light);
legend(1273, 1288, 1349, rowsT[1], 'SAR only (cm)', COL.green);
legend(1273, 1288, 1349, rowsT[2], 'LRM+SAR (cm)', COL.red);
legend(314, 328, 390, rowsB[0], 'LRM asc (cm)', COL.light);
legend(314, 328, 390, rowsB[1], 'LRM des (cm)', COL.green);
legend(314, 328, 390, rowsB[2], 'SAR asc (cm)', COL.red);
legend(314, 328, 390, rowsB[3], 'SAR des (cm)', COL.black);
legend(1273, 1288, 1349, rowsB[0], 'LRM only (cm)', COL.light);
legend(1273, 1288, 1349, rowsB[1], 'SAR only (cm)', COL.green);
legend(1273, 1288, 1349, rowsB[2], 'LRM+SAR (cm)', COL.red);

const layout = {
  width: W, height: H, margin:{l:0, r:0, t:0, b:0}, showlegend:false,
  paper_bgcolor:'#fff', plot_bgcolor:'#fff', font:{family:SANS, color:'#000'},
  xaxis: xAx(dxL, [2010.74, 2021.08], 'y'),  yaxis: yAx(dyT, [-4, -1.5], 'x'),
  xaxis2: xAx(dxR, [2010.745, 2017.095], 'y2'), yaxis2: yAx(dyT, [-5, 0], 'x2'),
  xaxis3: xAx(dxL, [2010.745, 2017.095], 'y3'), yaxis3: yAx(dyB, [-5, 1], 'x3'),
  xaxis4: xAx(dxR, [2010.745, 2017.095], 'y4'), yaxis4: yAx(dyB, [-7, -2], 'x4'),
  annotations, shapes
};
Plotly.newPlot('plot', traces, layout, {staticPlot:true, displayModeBar:false});
</script></body></html>
